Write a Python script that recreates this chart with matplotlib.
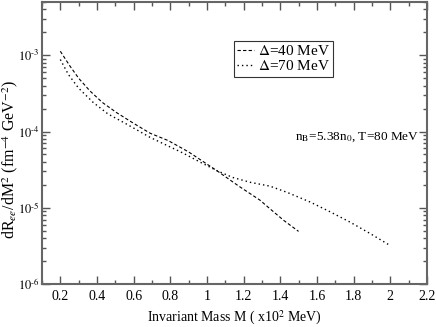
import matplotlib
matplotlib.use("Agg")
import matplotlib.pyplot as plt
from matplotlib.ticker import LogLocator, MultipleLocator, FixedLocator

plt.rcParams['font.family'] = ['Liberation Serif', 'DejaVu Serif']
plt.rcParams['mathtext.fontset'] = 'stix'

# Delta = 40 MeV (dashed)
m_40 = [0.2, 0.253, 0.30, 0.362, 0.43, 0.507, 0.60, 0.69, 0.789, 0.90, 1.053, 1.17, 1.289, 1.344, 1.42, 1.5]
r_40 = [1.13e-3, 7.2e-4, 5.0e-4, 3.4e-4, 2.4e-4, 1.77e-4, 1.28e-4, 9.5e-5, 7.6e-5, 5.4e-5, 3.08e-5, 1.95e-5, 1.26e-5, 9.7e-6, 6.8e-6, 4.9e-6]

# Delta = 70 MeV (dotted)
m_70 = [0.2, 0.244, 0.30, 0.38, 0.46, 0.562, 0.689, 0.78, 0.871, 0.96, 1.053, 1.14, 1.235, 1.344, 1.435, 1.563, 1.67, 1.78, 1.89, 1.99]
r_70 = [8.8e-4, 5.6e-4, 3.7e-4, 2.4e-4, 1.7e-4, 1.25e-4, 8.4e-5, 6.6e-5, 5.2e-5, 4.0e-5, 3.08e-5, 2.5e-5, 2.16e-5, 1.92e-5, 1.6e-5, 1.19e-5, 8.9e-6, 6.5e-6, 4.6e-6, 3.3e-6]

xticks = [0.2, 0.4, 0.6, 0.8, 1.0, 1.2, 1.4, 1.6, 1.8, 2.0, 2.2]
xticklabels = ['0.2', '0.4', '0.6', '0.8', '1', '1.2', '1.4', '1.6', '1.8', '2', '2.2']
yticks = [1e-6, 1e-5, 1e-4, 1e-3]
yticklabels = ['$10^{\u2010' + e + '}$' for e in ['6', '5', '4', '3']]

fig = plt.figure(figsize=(4.36, 3.27), dpi=100)
ax = fig.add_axes([0.0963, 0.1315, 0.8827, 0.8624])

ax.plot(m_40, r_40, color='black', lw=0.8, linestyle=(0, (3, 2)), label=r'$\Delta$=40 MeV')
ax.plot(m_70, r_70, color='black', lw=1.0, linestyle=(0, (1, 2.2)), label=r'$\Delta$=70 MeV')

ax.set_yscale('log')
ax.set_xlim(0.1, 2.2)
ax.set_ylim(1e-6, 5e-3)

ax.set_xticks(xticks)
ax.set_xticklabels(xticklabels)
ax.xaxis.set_minor_locator(MultipleLocator(0.1))
ax.yaxis.set_major_locator(FixedLocator(yticks))
ax.set_yticklabels(yticklabels)
ax.yaxis.set_minor_locator(LogLocator(base=10, subs=range(2, 10)))

ax.tick_params(which='both', direction='in', top=True, right=True, labelsize=10, colors='black')
ax.tick_params(which='major', length=6, width=1, color='#555555', pad=4)
ax.tick_params(which='minor', length=3, width=1, color='#555555')
ax.tick_params(axis='y', which='major', labelsize=9, pad=2)
ax.yaxis.set_tick_params(which='minor', labelleft=False)
for s in ax.spines.values():
    s.set_linewidth(1.5)
    s.set_color('#666666')

ax.set_xlabel(r'Invariant Mass M ( x10$^{2}$ MeV)', fontsize=10)
ax.xaxis.set_label_coords(0.5, -0.088)
ax.set_ylabel(r'dR$_{ee}$/dM$^{2}$ (fm$^{-4}$ GeV$^{-2}$)', fontsize=11.5)
ax.yaxis.set_label_coords(-0.058, 0.44)

leg = ax.legend(loc='upper left', bbox_to_anchor=(0.498, 0.862), fontsize=11,
                frameon=True, fancybox=False, handlelength=1.1, handletextpad=0.3,
                borderpad=0.2, labelspacing=0.1, borderaxespad=0)
leg.get_frame().set_edgecolor('black')
leg.get_frame().set_linewidth(0.8)

ax.text(0.82, 0.52, r'n$_{\rm B}$=5.38n$_0$, T=80 MeV', transform=ax.transAxes,
        ha='center', va='center', fontsize=9.5)

fig.savefig('out.png', dpi=100)
